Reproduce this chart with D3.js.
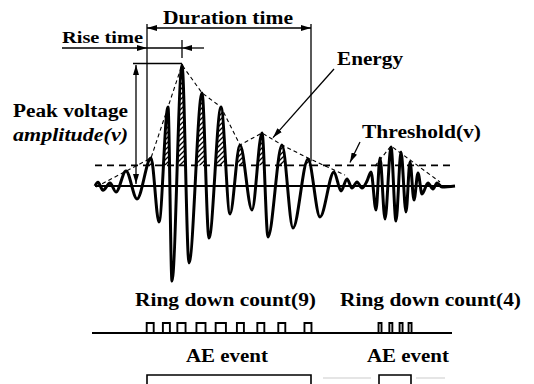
<!DOCTYPE html>
<html>
<head>
<meta charset="utf-8">
<script src="https://cdn.jsdelivr.net/npm/d3@7"></script>
<style>
  html, body { margin: 0; padding: 0; background: #fff; }
  svg { display: block; }
  text { font-family: "Liberation Serif", "Times New Roman", serif; font-weight: bold; fill: #000; }
</style>
</head>
<body>
<svg id="chart" width="534" height="384"></svg>
<script>
// Acoustic-emission signal: extrema of the recorded waveform (time units, normalised voltage)
const waveTime = [0, 3, 8, 15, 21, 31, 42, 56, 64, 73, 77, 87, 94, 107, 114, 126, 135, 145, 157, 167, 173, 187, 198, 213, 225, 239, 246, 252, 257, 262, 267, 272, 276, 281, 285, 290, 296, 301, 306, 311, 315, 319, 323, 327, 333, 338, 342, 347, 360];
const waveVolt = [0, 0.03, -0.035, 0.025, -0.05, 0.124, -0.107, 0.231, -0.298, 0.653, -0.785, 1.0, -0.636, 0.769, -0.43, 0.653, -0.231, 0.339, -0.198, 0.438, -0.421, 0.339, -0.347, 0.223, -0.256, 0.116, -0.041, 0.058, -0.017, 0.033, -0.017, 0.041, 0.116, -0.198, 0.231, -0.273, 0.322, -0.289, 0.281, -0.215, 0.198, -0.116, 0.107, -0.066, 0.025, -0.025, 0.025, -0.008, 0];

// Detection threshold (normalised voltage)
const threshold = 0.17;

// Energy envelopes of the two hits
const envTime = [1, 56, 87, 107, 126, 145, 167, 187, 213, 250];
const envVolt = [-0.008, 0.231, 1.0, 0.769, 0.653, 0.339, 0.438, 0.339, 0.231, 0.091];
const env2Time = [280, 296, 345];
const env2Volt = [0.165, 0.331, 0.033];

// AE events: first and last threshold crossing of each hit
const eventStart = [52, 284];
const eventEnd = [216, 316];

// Peak of the first hit
const peakTime = 87;
const peakVolt = 1.0;

// Label text
const durationLabel = "Duration time";
const riseLabel = "Rise time";
const energyLabel = "Energy";
const thresholdLabel = "Threshold(v)";
const amplitudeLabels = ["Peak voltage", "amplitude(v)"];
const eventLabel = "AE event";

const svg = d3.select("#chart");
const W = 534, H = 384;

const x = d3.scaleLinear().domain([0, 360]).range([95, 455]);
const y = d3.scaleLinear().domain([-1, 1]).range([307, 65]);

const wave = waveTime.map((t, i) => ({ t, v: waveVolt[i] }));
const env1 = envTime.map((t, i) => ({ t, v: envVolt[i] }));
const env2 = env2Time.map((t, i) => ({ t, v: env2Volt[i] }));

const defs = svg.append("defs");

// arrowhead
defs.append("marker")
  .attr("id", "arrow")
  .attr("viewBox", "0 0 10 6")
  .attr("refX", 10).attr("refY", 3)
  .attr("markerUnits", "userSpaceOnUse")
  .attr("markerWidth", 10).attr("markerHeight", 6)
  .attr("orient", "auto-start-reverse")
  .append("path").attr("d", "M0,0 L10,3 L0,6 Z").attr("fill", "#000");

// diagonal hatching for the energy area
const hatch = defs.append("pattern")
  .attr("id", "hatch")
  .attr("patternUnits", "userSpaceOnUse")
  .attr("width", 5).attr("height", 5);
hatch.append("path")
  .attr("d", "M-1,1 L1,-1 M0,5 L5,0 M4,6 L6,4")
  .attr("stroke", "#000").attr("stroke-width", 1.3);

const lineGen = d3.line().x(d => x(d.t)).y(d => y(d.v)).curve(d3.curveMonotoneX);
const underWave = d3.area().x(d => x(d.t)).y0(H).y1(d => y(d.v)).curve(d3.curveMonotoneX);

defs.append("clipPath").attr("id", "under-wave")
  .append("path").attr("d", underWave(wave));

// hatched energy above threshold within the first event
svg.append("rect")
  .attr("x", x(eventStart[0]))
  .attr("y", 0)
  .attr("width", x(eventEnd[0]) - x(eventStart[0]))
  .attr("height", y(threshold))
  .attr("fill", "url(#hatch)")
  .attr("clip-path", "url(#under-wave)");

// zero line
svg.append("line")
  .attr("x1", x(0)).attr("x2", x(360))
  .attr("y1", y(0)).attr("y2", y(0))
  .attr("stroke", "#000").attr("stroke-width", 2.2);

// threshold line
svg.append("line")
  .attr("x1", x(0)).attr("x2", x(358))
  .attr("y1", y(threshold)).attr("y2", y(threshold))
  .attr("stroke", "#000").attr("stroke-width", 1.8)
  .attr("stroke-dasharray", "7,5");

// waveform
svg.append("path")
  .attr("d", lineGen(wave))
  .attr("fill", "none")
  .attr("stroke", "#000")
  .attr("stroke-width", 3)
  .attr("stroke-linejoin", "round");

// energy envelopes
const envGen = d3.line().x(d => x(d.t)).y(d => y(d.v));
[env1, env2].forEach(e => {
  svg.append("path")
    .attr("d", envGen(e))
    .attr("fill", "none")
    .attr("stroke", "#000")
    .attr("stroke-width", 1.1)
    .attr("stroke-dasharray", "4,3");
});

function seg(x1, y1, x2, y2, opts = {}) {
  const l = svg.append("line")
    .attr("x1", x1).attr("y1", y1).attr("x2", x2).attr("y2", y2)
    .attr("stroke", "#000").attr("stroke-width", opts.w || 1.3);
  if (opts.start) l.attr("marker-start", "url(#arrow)");
  if (opts.end) l.attr("marker-end", "url(#arrow)");
  return l;
}
function label(txt, x0, y0, len, size, italic) {
  const t = svg.append("text")
    .attr("x", x0).attr("y", y0)
    .attr("font-size", size)
    .attr("textLength", len)
    .attr("lengthAdjust", "spacingAndGlyphs")
    .text(txt);
  if (italic) t.attr("font-style", "italic");
  return t;
}

const xs = x(eventStart[0]), xe = x(eventEnd[0]), xp = x(peakTime);

// duration time
seg(xs, 24, xs, y(threshold) - 4);
seg(xe, 24, xe, y(threshold) - 4);
seg(xs, 28, xe, 28, { start: true, end: true });
label(durationLabel, 163, 24, 130, 18);

// rise time
label(riseLabel, 62, 43, 81, 17);
seg(62, 48, xs, 48, { end: true });
seg(xs, 48, xp, 48);
seg(xp, 40, xp, 58);
seg(xp + 22, 48, xp, 48, { end: true });

// peak amplitude
seg(x(38), y(peakVolt) - 1.5, xp, y(peakVolt) - 1.5);
seg(x(41), y(peakVolt), x(41), y(0) - 2, { start: true, end: true });
label(amplitudeLabels[0], 13, 117, 115, 18);
label(amplitudeLabels[1], 13, 141, 115, 18, true);

// energy
label(energyLabel, 337, 65, 66, 18);
seg(334, 69, x(178), y(0.4), { end: true });

// threshold
label(thresholdLabel, 362, 138, 119, 18);
seg(360, 142, 350, y(threshold) - 3, { end: true });

// ring-down counts: one pulse per positive peak above threshold
const pulses = [];
for (let i = 1; i < wave.length - 1; i++) {
  const p = wave[i];
  if (p.v > threshold && p.v > wave[i - 1].v && p.v > wave[i + 1].v) {
    const a = wave[i - 1], b = wave[i + 1];
    const t0 = a.t + (p.t - a.t) * (threshold - a.v) / (p.v - a.v);
    const t1 = p.t + (b.t - p.t) * (p.v - threshold) / (p.v - b.v);
    pulses.push({ t0, t1, tp: p.t });
  }
}
const pulseBase = 333, pulseH = 10;
svg.append("line")
  .attr("x1", 92).attr("x2", 452)
  .attr("y1", pulseBase).attr("y2", pulseBase)
  .attr("stroke", "#000").attr("stroke-width", 2);
svg.append("g").selectAll("path").data(pulses).join("path")
  .attr("d", d => {
    let a = x(d.t0), b = x(d.t1);
    const minW = d.tp < eventEnd[0] + 5 ? 7 : 3;
    if (b - a < minW) { const c = (a + b) / 2; a = c - minW / 2; b = c + minW / 2; }
    return `M${a},${pulseBase} V${pulseBase - pulseH} H${b} V${pulseBase}`;
  })
  .attr("fill", "none").attr("stroke", "#000").attr("stroke-width", 1.9);

const ringX = [135, 340];
eventStart.forEach((s, k) => {
  const n = pulses.filter(p => p.tp >= s && p.tp <= eventEnd[k]).length;
  label(`Ring down count(${n})`, ringX[k], 306, 181, 18);
});

// AE event gates
const eventLabelX = [186, 367];
eventStart.forEach((s, k) => {
  label(eventLabel, eventLabelX[k], 362, 82, 18);
  svg.append("path")
    .attr("d", `M${x(s)},${H + 2} V375 H${x(eventEnd[k])} V${H + 2}`)
    .attr("fill", "none").attr("stroke", "#000").attr("stroke-width", 1.6);
});
svg.append("line").attr("x1", x(eventEnd[0]) + 12).attr("x2", x(eventStart[1]) - 8)
  .attr("y1", 378).attr("y2", 378).attr("stroke", "#ddd").attr("stroke-width", 1.5);
svg.append("line").attr("x1", x(eventEnd[1]) + 5).attr("x2", 445)
  .attr("y1", 378).attr("y2", 378).attr("stroke", "#ddd").attr("stroke-width", 1.5);
</script>
</body>
</html>
